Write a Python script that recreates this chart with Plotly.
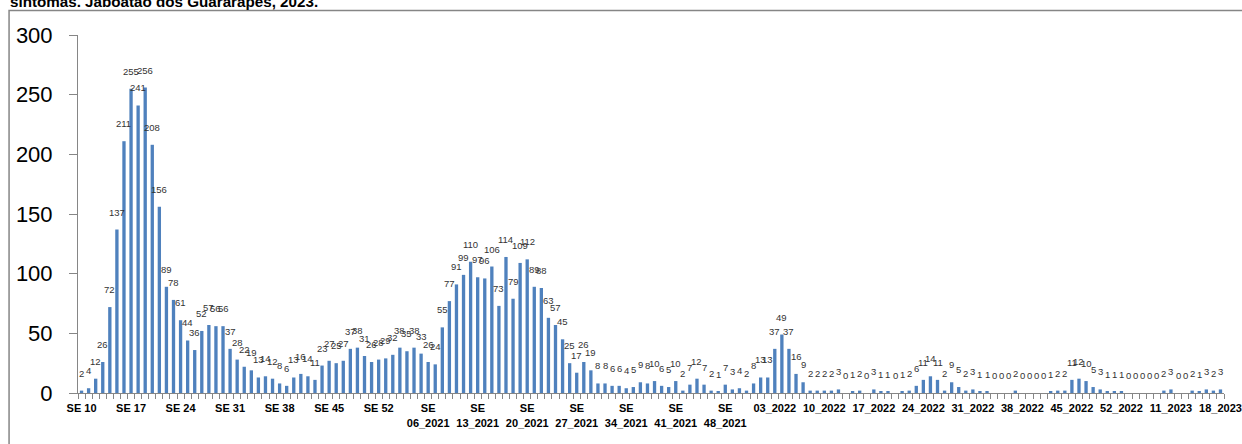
import plotly.graph_objects as go

# ---- data ----
weeks_2020 = list(range(10, 54))
weeks_2021 = list(range(1, 53))
weeks_2022 = list(range(1, 53))
weeks_2023 = list(range(5, 19))

values_2020 = [2, 4, 12, 26, 72, 137, 211, 255, 241, 256, 208, 156, 89, 78, 61, 44, 36, 52, 57, 56,
               56, 37, 28, 22, 19, 13, 14, 12, 8, 6, 13, 16, 14, 11, 23, 27, 25, 27, 37, 38,
               31, 26, 28, 29]
values_2021 = [32, 38, 35, 38, 33, 26, 24, 55, 77, 91, 99, 110, 97, 96, 106, 73, 114, 79, 109, 112,
               89, 88, 63, 57, 45, 25, 17, 26, 19, 8, 8, 6, 6, 4, 5, 9, 8, 10, 6, 5,
               10, 2, 7, 12, 7, 2, 1, 7, 3, 4, 2, 8]
values_2022 = [13, 13, 37, 49, 37, 16, 9, 2, 2, 2, 2, 3, 0, 1, 2, 0, 3, 1, 1, 0,
               1, 2, 6, 11, 14, 11, 2, 9, 5, 2, 3, 1, 1, 0, 0, 0, 2, 0, 0, 0,
               0, 1, 2, 2, 11, 12, 10, 5, 3, 1, 1, 1]
values_2023 = [0, 0, 0, 0, 0, 2, 3, 0, 0, 2, 1, 3, 2, 3]

categories = ([f"SE {w}" for w in weeks_2020]
              + [f"SE {w:02d}_2021" for w in weeks_2021]
              + [f"{w:02d}_2022" for w in weeks_2022]
              + [f"{w:02d}_2023" for w in weeks_2023])
values = values_2020 + values_2021 + values_2022 + values_2023

labeled_categories = ["SE 10", "SE 17", "SE 24", "SE 31", "SE 38", "SE 45", "SE 52",
                      "SE 06_2021", "SE 13_2021", "SE 20_2021", "SE 27_2021", "SE 34_2021",
                      "SE 41_2021", "SE 48_2021", "03_2022", "10_2022", "17_2022", "24_2022",
                      "31_2022", "38_2022", "45_2022", "52_2022", "11_2023", "18_2023"]
tick_labels = ["SE 10", "SE 17", "SE 24", "SE 31", "SE 38", "SE 45", "SE 52",
               "SE<br>06_2021", "SE<br>13_2021", "SE<br>20_2021", "SE<br>27_2021", "SE<br>34_2021",
               "SE<br>41_2021", "SE<br>48_2021", "03_2022", "10_2022", "17_2022", "24_2022",
               "31_2022", "38_2022", "45_2022", "52_2022", "11_2023", "18_2023"]

title_text = "sintomas. Jaboatão dos Guararapes, 2023."

# ---- layout geometry ----
W, H = 1242, 444
ML, MR, MT, MB = 77.5, 17.5, 35, 51
PW = W - ML - MR
PH = H - MT - MB


def px_x(p):
    return (p - ML) / PW


def px_y(p):
    return 1 - (p - MT) / PH


label_map = dict(zip(labeled_categories, tick_labels))
ticktext = [label_map.get(c, "") for c in categories]

fig = go.Figure()
fig.add_trace(go.Bar(
    x=categories, y=values,
    marker=dict(color="#4F81BD", line=dict(width=0)),
    hoverinfo="x+y",
))

annotations = []
for c, v in zip(categories, values):
    annotations.append(dict(
        x=c, y=v, xref="x", yref="y", text=str(v), showarrow=False,
        yanchor="bottom", xanchor="center", yshift=10,
        font=dict(family="Liberation Sans, Arial, sans-serif", size=9.5, color="#333333"),
    ))

annotations.append(dict(
    x=px_x(7), y=px_y(12), xref="paper", yref="paper", text="<b>" + title_text + "</b>",
    showarrow=False, xanchor="left", yanchor="bottom",
    font=dict(family="Liberation Sans, Arial, sans-serif", size=15.2, color="#000000"),
))

fig.update_layout(
    width=W, height=H,
    margin=dict(l=ML, r=MR, t=MT, b=MB, pad=0, autoexpand=False),
    paper_bgcolor="white", plot_bgcolor="white",
    bargap=0.53,
    showlegend=False,
    annotations=annotations,
    shapes=[dict(type="rect", xref="paper", yref="paper",
                 x0=px_x(8.5), x1=px_x(1400), y0=px_y(10.5), y1=px_y(600),
                 line=dict(color="#868686", width=1.5), layer="below")],
    xaxis=dict(
        type="category", automargin=False,
        tickmode="array", tickvals=categories, ticktext=ticktext,
        tickson="boundaries", ticks="outside", ticklen=5, tickcolor="#868686", tickwidth=1,
        showline=True, linecolor="#868686", linewidth=1,
        showgrid=False, tickangle=0,
        ticklabelstandoff=5,
        tickfont=dict(family="Liberation Sans, Arial, sans-serif", size=11, color="#000000",
                      weight="bold"),
        range=[-0.5, len(categories) - 0.5],
    ),
    yaxis=dict(
        range=[0, 300], tickmode="array", tickvals=[0, 50, 100, 150, 200, 250, 300],
        automargin=False,
        ticks="outside", ticklen=8, tickcolor="#868686", tickwidth=1,
        showline=True, linecolor="#868686", linewidth=1,
        showgrid=False, zeroline=False,
        ticklabelstandoff=12,
        tickfont=dict(family="Liberation Sans, Arial, sans-serif", size=22, color="#000000"),
    ),
)

fig.write_html(
    "out.html",
    config={"displayModeBar": False},
    post_script="document.body.style.margin='0';document.body.style.overflow='hidden';",
)
